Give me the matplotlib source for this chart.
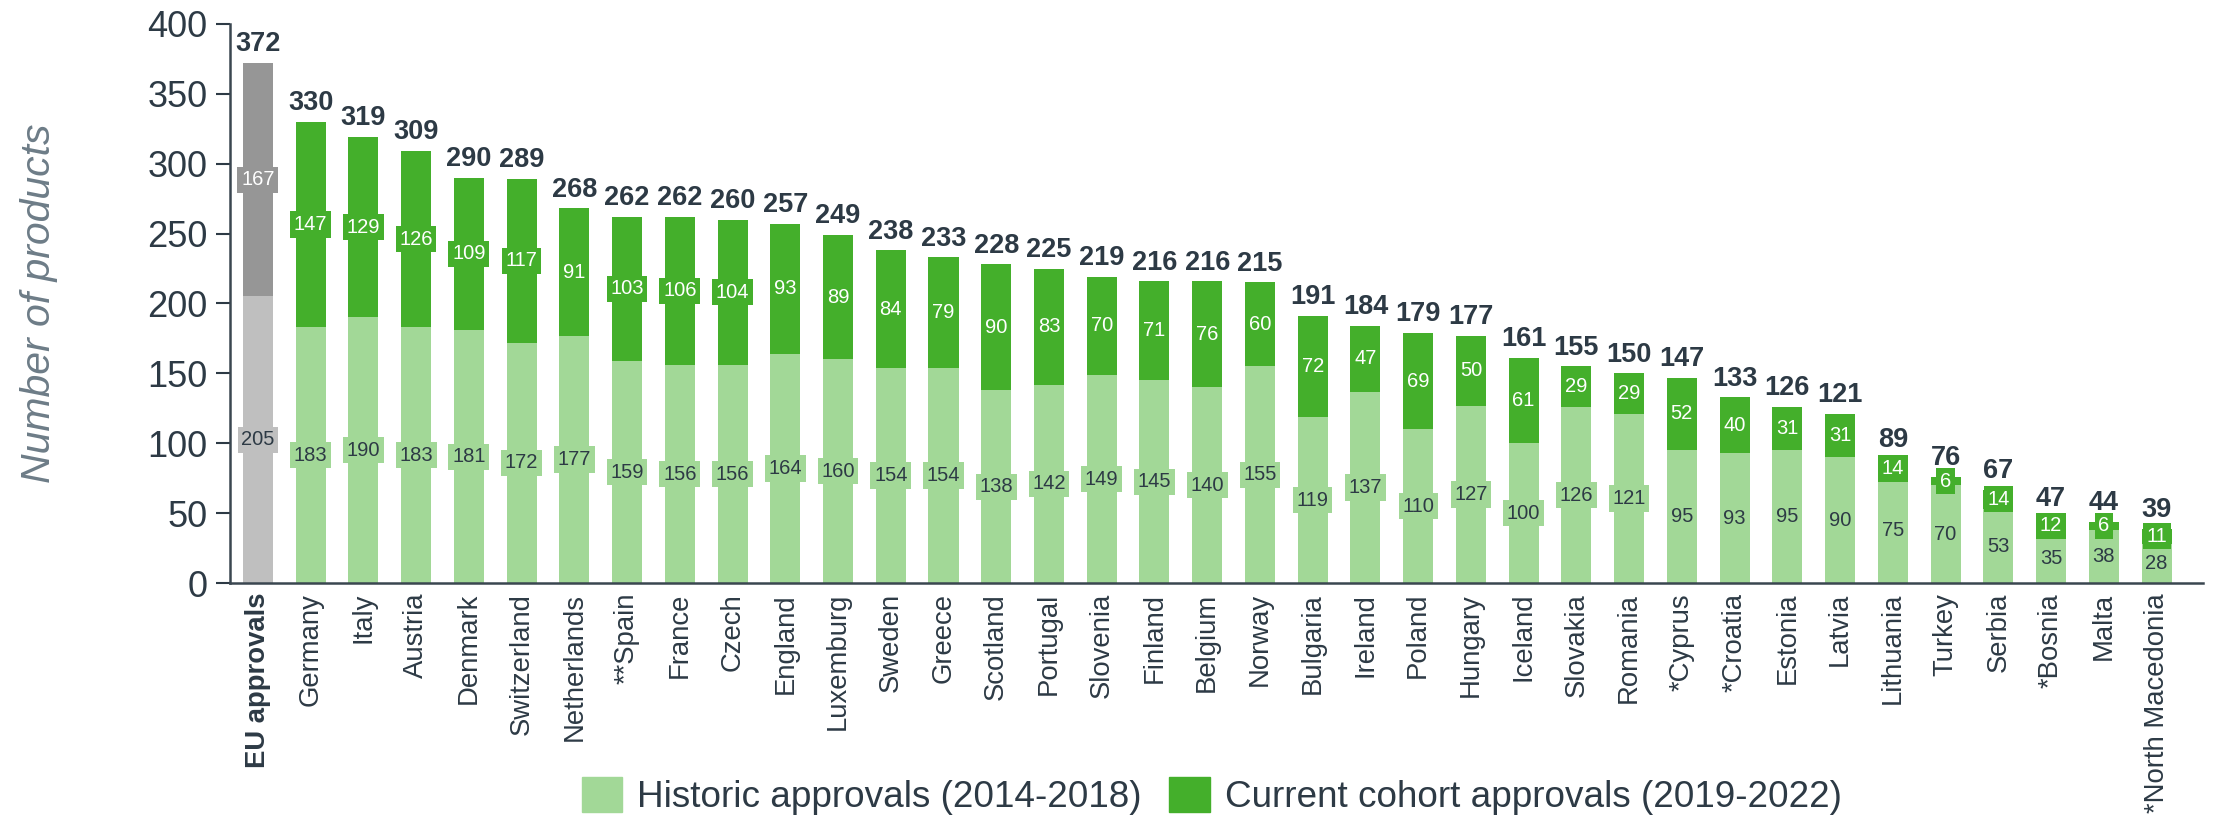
import matplotlib
matplotlib.use("Agg")
import matplotlib.pyplot as plt
from matplotlib.patches import Patch

categories = ["EU approvals", "Germany", "Italy", "Austria", "Denmark", "Switzerland",
              "Netherlands", "**Spain", "France", "Czech", "England", "Luxemburg",
              "Sweden", "Greece", "Scotland", "Portugal", "Slovenia", "Finland",
              "Belgium", "Norway", "Bulgaria", "Ireland", "Poland", "Hungary",
              "Iceland", "Slovakia", "Romania", "*Cyprus", "*Croatia", "Estonia",
              "Latvia", "Lithuania", "Turkey", "Serbia", "*Bosnia", "Malta",
              "*North Macedonia"]
historic = [205, 183, 190, 183, 181, 172, 177, 159, 156, 156, 164, 160, 154, 154,
            138, 142, 149, 145, 140, 155, 119, 137, 110, 127, 100, 126, 121, 95,
            93, 95, 90, 75, 70, 53, 35, 38, 28]
current = [167, 147, 129, 126, 109, 117, 91, 103, 106, 104, 93, 89, 84, 79,
           90, 83, 70, 71, 76, 60, 72, 47, 69, 50, 61, 29, 29, 52,
           40, 31, 31, 14, 6, 14, 12, 6, 11]
yticks = [0, 50, 100, 150, 200, 250, 300, 350, 400]

LIGHT = "#a2d897"
DARK = "#44af2b"
GRAY_L = "#bfbfbf"
GRAY_D = "#969696"
TXT = "#2d3a45"

plt.rcParams['font.family'] = ['Liberation Sans', 'DejaVu Sans']

fig = plt.figure(figsize=(22.15, 8.18), dpi=100)
ax = fig.add_axes([0.1038, 0.287, 0.891, 0.684])

x = list(range(len(categories)))
w = 0.57
hcols = [GRAY_L] + [LIGHT] * (len(x) - 1)
ccols = [GRAY_D] + [DARK] * (len(x) - 1)
ax.bar(x, historic, width=w, color=hcols, zorder=2)
ax.bar(x, current, bottom=historic, width=w, color=ccols, zorder=2)

for i in x:
    h, c = historic[i], current[i]
    ax.text(i, h / 2, str(h), ha="center", va="center", fontsize=14.5,
            color=TXT, zorder=3,
            bbox=dict(boxstyle="square,pad=0.18", fc=hcols[i], ec="none"))
    ax.text(i, h + c / 2, str(c), ha="center", va="center", fontsize=14.5,
            color="white", zorder=3,
            bbox=dict(boxstyle="square,pad=0.18", fc=ccols[i], ec="none"))
    ax.text(i, h + c + 4, str(h + c), ha="center", va="bottom", fontsize=19.5,
            fontweight="bold", color=TXT, zorder=3)

ax.set_xlim(-0.53, len(x) - 1 + 0.89)
ax.set_ylim(0, 400)
ax.set_yticks(yticks)
ax.tick_params(axis="y", labelsize=26, labelcolor=TXT, color=TXT, length=10, width=1.5, pad=6)
ax.set_xticks(x)
ax.set_xticklabels(categories, rotation=90, fontsize=19.8, color=TXT)
ax.get_xticklabels()[0].set_fontweight("bold")
ax.tick_params(axis="x", length=0, pad=7)
for s in ["top", "right"]:
    ax.spines[s].set_visible(False)
for s in ["left", "bottom"]:
    ax.spines[s].set_color("#3a4650")
    ax.spines[s].set_linewidth(1.8)

ax.set_ylabel("Number of products", fontsize=29.5, style="italic", color="#6d7c87")
ax.yaxis.set_label_coords(-0.087, 0.5)

handles = [Patch(color=LIGHT, label="Historic approvals (2014-2018)"),
           Patch(color=DARK, label="Current cohort approvals (2019-2022)")]
fig.legend(handles=handles, loc="center", bbox_to_anchor=(0.547, 0.027), ncol=2,
           frameon=False, prop=dict(size=26.6),
           handlelength=1.1, handleheight=1.1, handletextpad=0.4, columnspacing=0.75,
           labelcolor=TXT, borderpad=0)

fig.savefig("out.png", dpi=100)
